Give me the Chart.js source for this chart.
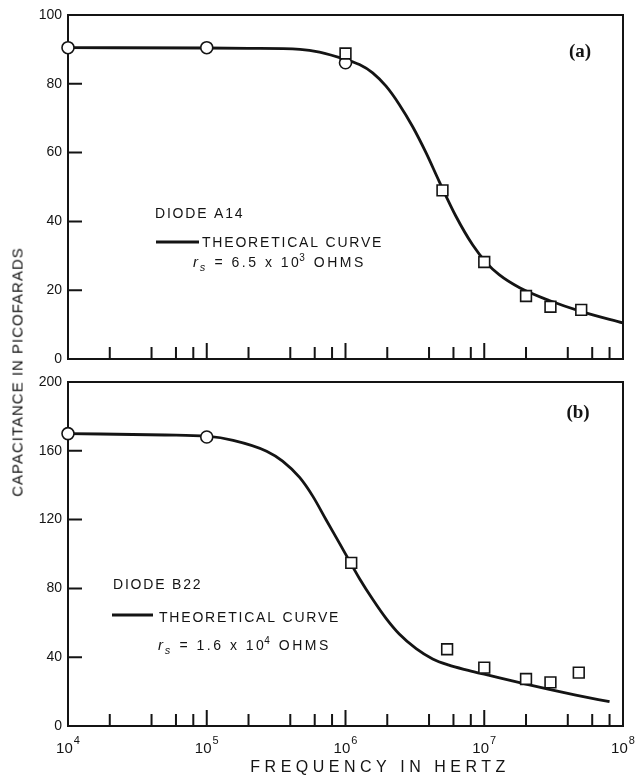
<!DOCTYPE html>
<html>
<head>
<meta charset="utf-8">
<script src="https://cdn.jsdelivr.net/npm/chart.js@4.4.1/dist/chart.umd.min.js"></script>
<style>
  body { margin: 0; background: #fff; }
  #wrap { position: relative; width: 637px; height: 775px; overflow: hidden; }
  canvas { position: absolute; left: 0; }
  #chartA { top: 0; }
  #chartB { top: 372px; }
  #ytitle {
    position: absolute; left: 17px; top: 372px;
    transform: translate(-50%, -50%) rotate(-90deg);
    font: 15px "Liberation Sans", Arial, sans-serif; letter-spacing: 1px;
    white-space: nowrap; color: #141414;
  }
</style>
</head>
<body>
<div id="wrap">
  <canvas id="chartA" width="637" height="372"></canvas>
  <canvas id="chartB" width="637" height="403"></canvas>
  <div id="ytitle">CAPACITANCE IN PICOFARADS</div>
</div>
<script>
'use strict';

// shared frequency axis, labels are 10 to the power in freqTickExps
var freqTicks = [1e4, 1e5, 1e6, 1e7, 1e8];
var freqTickBase = '10';
var freqTickExps = ['4', '5', '6', '7', '8'];
var minorSteps = [2, 4, 6, 8];

// (a) diode A14
var capTicksA = [0, 20, 40, 60, 80, 100];
var curveFreqA = [1e4, 1e5, 2e5, 4.7e5, 6.5e5, 1.01e6, 1.26e6, 1.57e6, 1.96e6, 2.44e6, 3.05e6, 3.81e6, 4.75e6, 6.25e6, 8.24e6, 1.03e7, 1.28e7, 1.8e7, 2.94e7, 5.1e7, 1e8];
var curveCapA = [90.5, 90.4, 90.3, 90.0, 89.2, 87.0, 85.6, 83.2, 79.3, 74.0, 67.5, 59.9, 51.5, 41.5, 33.2, 28.1, 24.5, 20.7, 17.0, 13.7, 10.5];
var circleFreqA = [1e4, 1e5, 1e6];
var circleCapA = [90.5, 90.5, 86.1];
var squareFreqA = [1e6, 5e6, 1e7, 2e7, 3e7, 5e7];
var squareCapA = [88.8, 49.0, 28.2, 18.3, 15.2, 14.3];

// (b) diode B22
var capTicksB = [0, 40, 80, 120, 160, 200];
var curveFreqB = [1e4, 5e4, 1e5, 1.55e5, 2.7e5, 3.52e5, 4.67e5, 5.82e5, 7.26e5, 9.06e5, 1.26e6, 1.57e6, 1.96e6, 2.44e6, 3.23e6, 4.25e6, 5.5e6, 7.4e6, 1e7, 2e7, 2.94e7, 4.57e7, 8e7];
var curveCapB = [170, 169.2, 168.5, 166.1, 159.8, 154.0, 144.5, 133.5, 119.8, 106.2, 85.8, 73.7, 62.6, 53.5, 45.0, 39.0, 35.5, 32.6, 30.1, 24.3, 21.3, 18.0, 14.1];
var circleFreqB = [1e4, 1e5];
var circleCapB = [170, 168];
var squareFreqB = [1.1e6, 5.4e6, 1e7, 2e7, 3e7, 4.8e7];
var squareCapB = [94.8, 44.6, 33.9, 27.3, 25.4, 31.0];

var ink = '#141414';
var sans = '"Liberation Sans", Arial, sans-serif';

var zip = function (xs, ys) {
  return xs.map(function (x, i) { return { x: x, y: ys[i] }; });
};

// box round the plot plus the inward pointing ticks
var frameTicks = {
  id: 'frameTicks',
  beforeDatasetsDraw: function (chart, args, opts) {
    var ctx = chart.ctx, area = chart.chartArea;
    var xs = chart.scales.x, ys = chart.scales.y;
    ctx.save();
    ctx.strokeStyle = ink;
    ctx.lineWidth = 2;
    ctx.strokeRect(area.left, area.top, area.right - area.left, area.bottom - area.top);
    ctx.beginPath();
    freqTicks.forEach(function (decade, i) {
      var px = xs.getPixelForValue(decade);
      ctx.moveTo(px, area.bottom);
      ctx.lineTo(px, area.bottom - 16);
      if (i === freqTicks.length - 1) return;
      minorSteps.forEach(function (m) {
        var mx = xs.getPixelForValue(decade * m);
        ctx.moveTo(mx, area.bottom);
        ctx.lineTo(mx, area.bottom - 12);
      });
    });
    opts.yTicks.slice(1, -1).forEach(function (v) {
      var py = ys.getPixelForValue(v);
      ctx.moveTo(area.left, py);
      ctx.lineTo(area.left + 14, py);
    });
    ctx.stroke();

    // decade labels with a raised exponent
    if (opts.showX) {
      ctx.fillStyle = ink;
      ctx.textBaseline = 'alphabetic';
      freqTicks.forEach(function (decade, i) {
        var px = xs.getPixelForValue(decade);
        ctx.font = '15px ' + sans;
        var wb = ctx.measureText(freqTickBase).width;
        ctx.font = '11px ' + sans;
        var we = ctx.measureText(freqTickExps[i]).width;
        var x0 = px - (wb + we + 1) / 2;
        ctx.font = '15px ' + sans;
        ctx.fillText(freqTickBase, x0, area.bottom + 27);
        ctx.font = '11px ' + sans;
        ctx.fillText(freqTickExps[i], x0 + wb + 1, area.bottom + 18);
      });
    }
    ctx.restore();
  }
};

var drawRs = function (ctx, x, y, mant, exp) {
  ctx.font = 'italic 15px ' + sans;
  ctx.fillText('r', x, y);
  x += ctx.measureText('r').width;
  ctx.font = 'italic 11px ' + sans;
  ctx.fillText('s', x, y + 4);
  x += ctx.measureText('s').width + 1;
  ctx.letterSpacing = '2.5px';
  ctx.font = '14px ' + sans;
  var t = ' = ' + mant + ' x 10';
  ctx.fillText(t, x, y);
  x += ctx.measureText(t).width - 2;
  ctx.font = '10px ' + sans;
  ctx.fillText(exp, x, y - 6);
  x += ctx.measureText(exp).width;
  ctx.font = '14px ' + sans;
  ctx.fillText(' OHMS', x, y);
};

// panel notes: tag, diode name, legend line and series resistance
var notes = {
  id: 'notes',
  afterDraw: function (chart, args, n) {
    var ctx = chart.ctx;
    ctx.save();
    ctx.fillStyle = ink;
    ctx.strokeStyle = ink;
    ctx.letterSpacing = '1.8px';
    ctx.textAlign = 'left';
    ctx.textBaseline = 'alphabetic';
    ctx.font = '14px ' + sans;
    ctx.fillText(n.diode, n.diodeAt[0], n.diodeAt[1]);
    ctx.lineWidth = 2.8;
    ctx.beginPath();
    ctx.moveTo(n.lineAt[0], n.lineAt[2]);
    ctx.lineTo(n.lineAt[1], n.lineAt[2]);
    ctx.stroke();
    ctx.fillText('THEORETICAL CURVE', n.curveAt[0], n.curveAt[1]);
    drawRs(ctx, n.rsAt[0], n.rsAt[1], n.rs[0], n.rs[1]);
    if (n.title) {
      ctx.letterSpacing = '4.5px';
      ctx.font = '16px ' + sans;
      ctx.textAlign = 'center';
      ctx.fillText(n.title, n.titleAt[0], n.titleAt[1]);
    }
    ctx.letterSpacing = '0px';
    ctx.font = 'bold 19px "Liberation Serif", serif';
    ctx.textAlign = 'center';
    ctx.textBaseline = 'middle';
    ctx.fillText(n.tag, n.tagAt[0], n.tagAt[1]);
    ctx.restore();
  }
};

var createPanel = function (id, p) {
  var yMax = p.yTicks[p.yTicks.length - 1];
  return new Chart(document.getElementById(id), {
    type: 'line',
    data: {
      datasets: [
        { data: zip(p.curveFreq, p.curveCap), borderColor: ink, borderWidth: 2.8, pointRadius: 0,
          cubicInterpolationMode: 'monotone', fill: false, order: 3 },
        { data: zip(p.circleFreq, p.circleCap), showLine: false, pointStyle: 'circle', pointRadius: 6,
          pointBackgroundColor: '#fff', pointBorderColor: ink, pointBorderWidth: 1.6, clip: false, order: 2 },
        { data: zip(p.squareFreq, p.squareCap), showLine: false, pointStyle: 'rect', pointRadius: 7.6,
          pointBackgroundColor: '#fff', pointBorderColor: ink, pointBorderWidth: 1.6, clip: false, order: 1 }
      ]
    },
    options: {
      responsive: false, animation: false, devicePixelRatio: 1,
      layout: { padding: p.padding },
      plugins: {
        legend: { display: false }, tooltip: { enabled: false },
        frameTicks: { yTicks: p.yTicks, showX: p.showX },
        notes: p.notes
      },
      scales: {
        x: {
          type: 'logarithmic', min: freqTicks[0], max: freqTicks[freqTicks.length - 1],
          afterBuildTicks: function (s) { s.ticks = freqTicks.map(function (v) { return { value: v }; }); },
          afterFit: function (s) { s.height = p.xHeight; s.paddingLeft = 0; s.paddingRight = 0; },
          grid: { display: false, drawTicks: false }, border: { display: false },
          ticks: { display: false }
        },
        y: {
          min: 0, max: yMax,
          afterBuildTicks: function (s) { s.ticks = p.yTicks.map(function (v) { return { value: v }; }); },
          afterFit: function (s) { s.width = 68; s.paddingTop = 0; s.paddingBottom = 0; },
          grid: { display: false, drawTicks: false }, border: { display: false },
          ticks: { padding: 6, color: ink, font: { family: sans, size: 14 } }
        }
      }
    },
    plugins: [frameTicks, notes]
  });
};

createPanel('chartA', {
  yTicks: capTicksA,
  curveFreq: curveFreqA, curveCap: curveCapA,
  circleFreq: circleFreqA, circleCap: circleCapA,
  squareFreq: squareFreqA, squareCap: squareCapA,
  padding: { top: 15, right: 14, bottom: 0, left: 0 },
  xHeight: 13, showX: false,
  notes: {
    tag: '(a)', tagAt: [580, 52],
    diode: 'DIODE A14', diodeAt: [155, 218],
    lineAt: [156, 199, 242], curveAt: [202, 247],
    rsAt: [193, 267], rs: ['6.5', '3']
  }
});

createPanel('chartB', {
  yTicks: capTicksB,
  curveFreq: curveFreqB, curveCap: curveCapB,
  circleFreq: circleFreqB, circleCap: circleCapB,
  squareFreq: squareFreqB, squareCap: squareCapB,
  padding: { top: 10, right: 14, bottom: 0, left: 0 },
  xHeight: 49, showX: true,
  notes: {
    tag: '(b)', tagAt: [578, 41],
    diode: 'DIODE B22', diodeAt: [113, 217],
    lineAt: [112, 153, 243], curveAt: [159, 250],
    rsAt: [158, 278], rs: ['1.6', '4'],
    title: 'FREQUENCY IN HERTZ', titleAt: [380, 400]
  }
});
</script>
</body>
</html>
